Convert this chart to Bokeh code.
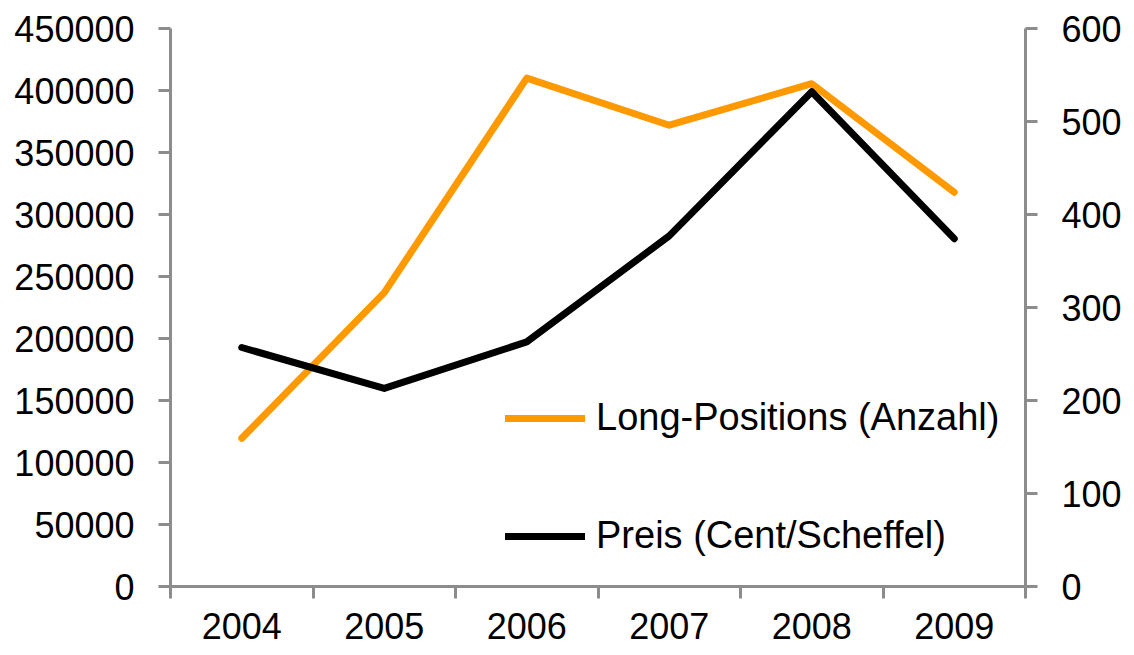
from bokeh.plotting import figure
from bokeh.models import (Range1d, LinearAxis, FixedTicker, BasicTickFormatter,
                          Legend, LegendItem)
from bokeh.embed import file_html
from bokeh.resources import INLINE

years = ["2004", "2005", "2006", "2007", "2008", "2009"]
long_positions = [119500, 237000, 410000, 372000, 405500, 318000]
preis = [257, 213, 263, 377, 532, 374]

left_ticks = [0, 50000, 100000, 150000, 200000, 250000, 300000, 350000, 400000, 450000]
right_ticks = [0, 100, 200, 300, 400, 500, 600]

FONT = "Liberation Sans"
AXIS_COLOR = "#8C8C8C"
FS = "36px"

n = len(years)
xc = [i + 0.5 for i in range(n)]

p = figure(frame_width=855, frame_height=558, output_backend="svg",
           toolbar_location=None, x_range=Range1d(0, n),
           y_range=Range1d(0, 450000),
           min_border_left=170, min_border_right=109,
           min_border_top=28, min_border_bottom=69)
p.outline_line_color = None
p.grid.visible = False
p.xaxis.visible = False
p.yaxis.visible = False

p.extra_y_ranges = {"right": Range1d(0, 600)}

# left axis
ly = LinearAxis(ticker=FixedTicker(ticks=left_ticks),
                formatter=BasicTickFormatter(use_scientific=False))
# bottom axis
bx = LinearAxis(ticker=FixedTicker(ticks=xc, minor_ticks=list(range(n + 1))),
                major_label_overrides={x: y for x, y in zip(xc, years)})
# right axis
ry = LinearAxis(y_range_name="right", ticker=FixedTicker(ticks=right_ticks))

for ax in (ly, ry):
    ax.axis_line_color = AXIS_COLOR
    ax.axis_line_width = 3
    ax.major_tick_line_color = AXIS_COLOR
    ax.major_tick_line_width = 3
    ax.major_tick_out = 12
    ax.major_tick_in = 0
    ax.minor_tick_line_color = None
    ax.major_label_text_font = FONT
    ax.major_label_text_font_size = FS
    ax.major_label_text_color = "black"
    ax.major_label_standoff = 24

bx.axis_line_color = AXIS_COLOR
bx.axis_line_width = 3
bx.major_tick_line_color = None
bx.major_tick_out = 12
bx.major_tick_in = 0
bx.minor_tick_line_color = AXIS_COLOR
bx.minor_tick_line_width = 3
bx.minor_tick_out = 12
bx.minor_tick_in = 0
bx.major_label_text_font = FONT
bx.major_label_text_font_size = FS
bx.major_label_text_color = "black"
bx.major_label_standoff = 14

p.add_layout(ly, "left")
p.add_layout(ry, "right")
p.add_layout(bx, "below")

r1 = p.line(xc, long_positions, line_color="#FF9900", line_width=7,
            line_cap="round", line_join="round")
r2 = p.line(xc, preis, y_range_name="right", line_color="#000000", line_width=7,
            line_cap="round", line_join="round")

legend = Legend(items=[LegendItem(label="Long-Positions (Anzahl)", renderers=[r1]),
                       LegendItem(label="Preis (Cent/Scheffel)", renderers=[r2])],
                location=(335, 29), orientation="vertical",
                glyph_width=80, glyph_height=40, label_height=40,
                label_standoff=11, spacing=75, padding=0, margin=0,
                border_line_color=None, background_fill_alpha=0,
                label_text_font=FONT, label_text_font_size="38px",
                label_text_color="black", label_text_baseline="middle")
p.add_layout(legend, "center")

open("out.html", "w").write(file_html(p, INLINE))
